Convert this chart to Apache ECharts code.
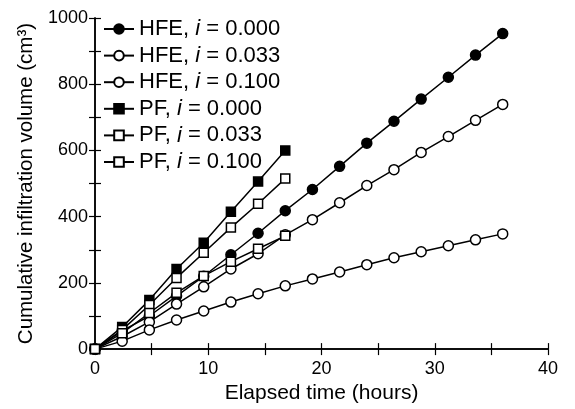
<!DOCTYPE html>
<html>
<head>
<meta charset="utf-8">
<script src="https://cdn.jsdelivr.net/npm/echarts@6/dist/echarts.min.js"></script>
<style>
  html, body { margin: 0; padding: 0; background: #fff; }
  #chart { width: 575px; height: 409px; }
</style>
</head>
<body>
<div id="chart"></div>
<script>
// elapsed time (hours)
const timesHFE = [0, 2.4, 4.8, 7.2, 9.6, 12, 14.4, 16.8, 19.2, 21.6, 24, 26.4, 28.8, 31.2, 33.6, 36];
const timesPF = [0, 2.4, 4.8, 7.2, 9.6, 12, 14.4, 16.8];

// cumulative infiltration volume (cm3)
const hfe000 = [0, 55, 100, 160, 220, 285, 350, 418, 482, 552, 622, 688, 755, 821, 888, 953];
const hfe033 = [0, 38, 82, 136, 188, 242, 288, 345, 391, 442, 494, 542, 594, 642, 691, 739];
const hfe100 = [0, 24, 58, 88, 115, 142, 167, 191, 212, 233, 255, 276, 294, 312, 330, 348];
const pf000 = [0, 67, 148, 242, 321, 415, 506, 600];
const pf033 = [0, 58, 133, 215, 291, 367, 439, 515];
const pf100 = [0, 48, 109, 170, 221, 264, 303, 342];

const xTicks = [0, 10, 20, 30, 40];
const yTicks = [0, 200, 400, 600, 800, 1000];

const FONT = '"Liberation Sans", Arial, Helvetica, sans-serif';

const chart = echarts.init(document.getElementById('chart'));

function pairs(xs, ys) {
  return ys.map((v, i) => [xs[i], v]);
}

function makeSeries(name, xs, ys, symbol, filled) {
  return {
    name: name,
    type: 'line',
    data: pairs(xs, ys),
    symbol: symbol,
    symbolSize: symbol === 'rect' ? 9 : 10,
    showAllSymbol: true,
    lineStyle: { color: '#000', width: 1.5 },
    itemStyle: {
      color: filled ? '#000' : '#fff',
      borderColor: '#000',
      borderWidth: 1.5,
    },
    emphasis: { disabled: true },
    animation: false,
  };
}

const series = [
  makeSeries('HFE, i = 0.000', timesHFE, hfe000, 'circle', true),
  makeSeries('HFE, i = 0.033', timesHFE, hfe033, 'circle', false),
  makeSeries('HFE, i = 0.100', timesHFE, hfe100, 'circle', false),
  makeSeries('PF, i = 0.000', timesPF, pf000, 'rect', true),
  makeSeries('PF, i = 0.033', timesPF, pf033, 'rect', false),
  makeSeries('PF, i = 0.100', timesPF, pf100, 'rect', false),
];

// 刻度线样式：朝内
const tickStyle = { show: true, inside: true, length: 6, lineStyle: { color: '#000', width: 1.2 } };
const minorStyle = { show: true, splitNumber: 2, length: 6, lineStyle: { color: '#000', width: 1.2 } };

chart.setOption({
  backgroundColor: '#fff',
  textStyle: { fontFamily: FONT },
  grid: { left: 95, right: 27, top: 18, bottom: 59 },
  legend: {
    left: 103,
    top: 18,
    orient: 'vertical',
    padding: 0,
    itemWidth: 30,
    itemHeight: 12,
    itemGap: 4.6,
    data: series.map((s) => s.name),
    formatter: function (name) {
      // 只把最后一个小写 i 变成斜体
      const idx = name.lastIndexOf('i');
      return '{n|' + name.slice(0, idx) + '}{it|i}{n|' + name.slice(idx + 1) + '}';
    },
    textStyle: {
      color: '#000',
      rich: {
        n: { fontFamily: FONT, fontSize: 22, lineHeight: 22, color: '#000' },
        it: { fontFamily: FONT, fontSize: 22, lineHeight: 22, fontStyle: 'italic', color: '#000' },
      },
    },
  },
  xAxis: [
    {
      type: 'value',
      min: 0,
      max: 40,
      interval: 10,
      name: 'Elapsed time (hours)',
      nameLocation: 'middle',
      nameGap: 30,
      nameTextStyle: { fontFamily: FONT, fontSize: 21, color: '#000' },
      axisLine: { show: true, lineStyle: { color: '#000', width: 1.5 } },
      axisTick: tickStyle,
      minorTick: minorStyle,
      axisLabel: { fontFamily: FONT, fontSize: 18, color: '#000', margin: 11 },
      splitLine: { show: false },
    },
    {
      type: 'value',
      position: 'top',
      min: 0,
      max: 40,
      interval: 10,
      axisLine: { show: true, lineStyle: { color: '#000', width: 1.5 } },
      axisTick: tickStyle,
      minorTick: minorStyle,
      axisLabel: { show: false },
      splitLine: { show: false },
    },
  ],
  yAxis: [
    {
      type: 'value',
      min: 0,
      max: 1000,
      interval: 200,
      name: 'Cumulative infiltration volume (cm³)',
      nameLocation: 'middle',
      nameGap: 56,
      nameTextStyle: { fontFamily: FONT, fontSize: 20.5, color: '#000' },
      axisLine: { show: true, lineStyle: { color: '#000', width: 1.5 } },
      axisTick: tickStyle,
      minorTick: minorStyle,
      axisLabel: {
        fontFamily: FONT,
        fontSize: 18,
        color: '#000',
        margin: 7,
        formatter: (v) => String(v),
      },
      splitLine: { show: false },
    },
    {
      type: 'value',
      position: 'right',
      min: 0,
      max: 1000,
      interval: 200,
      axisLine: { show: true, lineStyle: { color: '#000', width: 1.5 } },
      axisTick: tickStyle,
      minorTick: minorStyle,
      axisLabel: { show: false },
      splitLine: { show: false },
    },
  ],
  series: series,
});
</script>
</body>
</html>
